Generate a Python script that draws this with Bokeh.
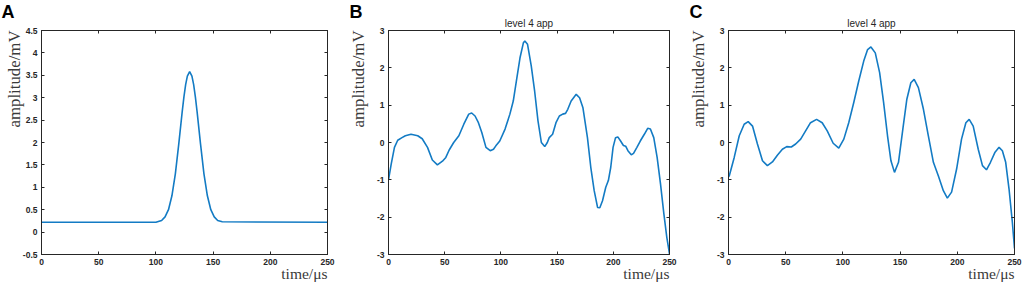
from bokeh.plotting import figure
from bokeh.layouts import row
from bokeh.models import FixedTicker, LinearAxis, Range1d, Title
from bokeh.embed import file_html
from bokeh.resources import INLINE

# ---------------- data ----------------
time_a = [0, 100, 105, 108, 111, 114, 117, 120, 123, 124.5, 126, 127.5, 129.5,
          131.5, 133, 134.5, 136, 139, 142, 145, 148, 151, 154, 158, 250]
amp_a = [0.22, 0.22, 0.26, 0.34, 0.50, 0.81, 1.30, 1.97, 2.69, 3.02, 3.29, 3.48, 3.58,
         3.48, 3.29, 3.02, 2.69, 1.97, 1.30, 0.81, 0.50, 0.34, 0.26, 0.23, 0.22]

time_b = [0, 2.4, 5.3, 8.2, 12, 15, 20, 26, 30, 34.7, 39, 43.5, 48, 51, 54, 58, 62.6,
          67, 71.4, 74, 77, 80, 83, 86.7, 90.5, 93.4, 95.5, 99, 103.7, 108, 111, 114,
          117, 120, 121.3, 123.7, 127, 130, 133, 136, 139, 141.3, 143, 146, 149, 152,
          155, 157.5, 159.5, 162.5, 167, 170, 173, 177, 180, 183, 186, 188, 190.4,
          193.3, 195.6, 197.7, 199.8, 202, 204, 206.5, 209, 211, 213, 216, 218, 221,
          224, 227.6, 230.6, 233, 236, 239, 242, 245, 247.6, 250]
amp_b = [-1.0, -0.58, -0.13, 0.06, 0.13, 0.18, 0.22, 0.18, 0.1, -0.13, -0.47, -0.6,
         -0.5, -0.4, -0.2, 0, 0.18, 0.49, 0.76, 0.79, 0.71, 0.53, 0.27, -0.13, -0.22,
         -0.18, -0.09, 0.04, 0.36, 0.76, 1.11, 1.69, 2.27, 2.67, 2.72, 2.63, 2.05,
         1.38, 0.58, 0, -0.11, 0, 0.13, 0.22, 0.53, 0.71, 0.76, 0.78, 0.89, 1.11,
         1.29, 1.2, 0.93, 0.13, -0.67, -1.29, -1.74, -1.75, -1.56, -1.2, -1.02, -0.67,
         -0.13, 0.13, 0.15, 0.04, -0.08, -0.1, -0.22, -0.33, -0.29, -0.13, 0.04, 0.22,
         0.38, 0.36, 0.13, -0.4, -1.11, -1.91, -2.54, -2.98]

time_c = [0, 0.7, 5, 9.4, 13.7, 17.2, 21, 25.3, 29.7, 34, 38.4, 42.7, 47.1, 50.9,
          54.9, 58.7, 63.1, 67.4, 71.7, 77, 81.9, 86.3, 91.5, 96.4, 100.8, 105.1,
          109.5, 113.8, 118.2, 121.6, 124.5, 128.3, 132.1, 135.6, 139, 142, 145.1,
          148.6, 152.4, 155.9, 159.4, 162.3, 166, 170.4, 174.7, 179.1, 183.4, 187.8,
          191.3, 195, 199.4, 203.7, 207.5, 210.4, 213.9, 218.3, 222, 225.5, 229,
          232.8, 236.5, 239.4, 242.3, 245.2, 248.1, 250]
amp_c = [-0.92, -0.89, -0.4, 0.18, 0.49, 0.56, 0.44, -0.04, -0.49, -0.62, -0.52,
         -0.34, -0.18, -0.11, -0.12, -0.04, 0.09, 0.31, 0.53, 0.62, 0.53, 0.31, -0.02,
         -0.15, 0.09, 0.53, 1.07, 1.64, 2.18, 2.49, 2.56, 2.4, 1.87, 1.07, 0.18, -0.49,
         -0.8, -0.53, 0.36, 1.16, 1.6, 1.69, 1.47, 0.89, 0.18, -0.53, -0.89, -1.29,
         -1.49, -1.33, -0.71, 0.09, 0.53, 0.62, 0.44, -0.18, -0.62, -0.73, -0.53,
         -0.27, -0.13, -0.22, -0.53, -1.24, -2.13, -2.84]

x_ticks = [0, 50, 100, 150, 200, 250]
x_tick_labels = ["0", "50", "100", "150", "200", "250"]
y_ticks_a = [-0.5, 0, 0.5, 1, 1.5, 2, 2.5, 3, 3.5, 4, 4.5]
y_tick_labels_a = ["-0.5", "0", "0.5", "1", "1.5", "2", "2.5", "3", "3.5", "4", "4.5"]
y_ticks_bc = [-3, -2, -1, 0, 1, 2, 3]
y_tick_labels_bc = ["-3", "-2", "-1", "0", "1", "2", "3"]
panel_letters = ["A", "B", "C"]
panel_titles = [None, "level 4 app", "level 4 app"]
x_label = "time/μs"
y_label = "amplitude/mV"

INK = "#262626"
LABEL_INK = "#3a3a3a"
LINE = "#137bc4"
SANS = "Liberation Sans"
SERIF = "Liberation Serif"


def style_axis(ax, ticks, labels, show_labels, standoff):
    ax.ticker = FixedTicker(ticks=ticks)
    ax.major_tick_in = 3
    ax.major_tick_out = 0
    ax.minor_tick_line_color = None
    ax.axis_line_color = INK
    ax.major_tick_line_color = INK
    ax.major_label_standoff = standoff
    if show_labels:
        ax.major_label_overrides = {t: l for t, l in zip(ticks, labels)}
        ax.major_label_text_font = SANS
        ax.major_label_text_font_style = "bold"
        ax.major_label_text_color = INK
        ax.major_label_text_font_size = "8.5px"
    else:
        ax.major_label_text_color = None
        ax.major_label_text_font_size = "0px"


def make_panel(t, a, yr, yticks, ylabels, letter, title, width, left, right,
               letter_offset, ylab_standoff):
    height, top, bottom = 285, 30, 31
    p = figure(width=width, height=height, x_range=Range1d(0, 250), y_range=Range1d(*yr),
               output_backend="svg", toolbar_location=None, title=letter,
               min_border_left=left, min_border_right=right,
               min_border_top=top, min_border_bottom=bottom)
    p.grid.visible = False
    p.outline_line_color = INK
    p.background_fill_color = "white"
    p.border_fill_color = "white"

    style_axis(p.below[0], x_ticks, x_tick_labels, True, 4)
    style_axis(p.left[0], yticks, ylabels, True, 4)
    top_ax = LinearAxis()
    style_axis(top_ax, x_ticks, x_tick_labels, False, 0)
    # the top axis carries the panel title ("level 4 app"); panel A has a blank one
    top_ax.axis_label = title if title else " "
    top_ax.axis_label_text_font = SANS
    top_ax.axis_label_text_font_style = "normal"
    top_ax.axis_label_text_font_size = "10px"
    top_ax.axis_label_text_color = INK
    top_ax.axis_label_standoff = 2
    right_ax = LinearAxis()
    style_axis(right_ax, yticks, ylabels, False, 0)
    p.add_layout(top_ax, "above")
    p.add_layout(right_ax, "right")

    # panel letter (plot title, pushed left of the frame)
    p.title.align = "left"
    p.title.offset = letter_offset
    p.title.standoff = -15
    p.title.text_font = SANS
    p.title.text_font_style = "bold"
    p.title.text_font_size = "18px"
    p.title.text_color = "black"

    # axis labels as side titles
    p.add_layout(Title(text=y_label, align="right", standoff=ylab_standoff,
                       text_font=SERIF, text_font_style="normal", text_font_size="16.8px",
                       text_color=LABEL_INK), "left")
    p.add_layout(Title(text=x_label, align="right", standoff=-10,
                       text_font=SERIF, text_font_style="normal", text_font_size="15.5px",
                       text_color=LABEL_INK), "below")

    p.line(t, a, line_color=LINE, line_width=1.6)
    return p


pa = make_panel(time_a, amp_a, (-0.5, 4.5), y_ticks_a, y_tick_labels_a,
                panel_letters[0], panel_titles[0], 340, 41, 13, -40, -8)
pb = make_panel(time_b, amp_b, (-3, 3), y_ticks_bc, y_tick_labels_bc,
                panel_letters[1], panel_titles[1], 340, 46, 11, -39, 12)
pc = make_panel(time_c, amp_c, (-3, 3), y_ticks_bc, y_tick_labels_bc,
                panel_letters[2], panel_titles[2], 344, 46, 10, -39, 12)

layout = row(pa, pb, pc, spacing=0)
open("out.html", "w").write(file_html(layout, INLINE))
